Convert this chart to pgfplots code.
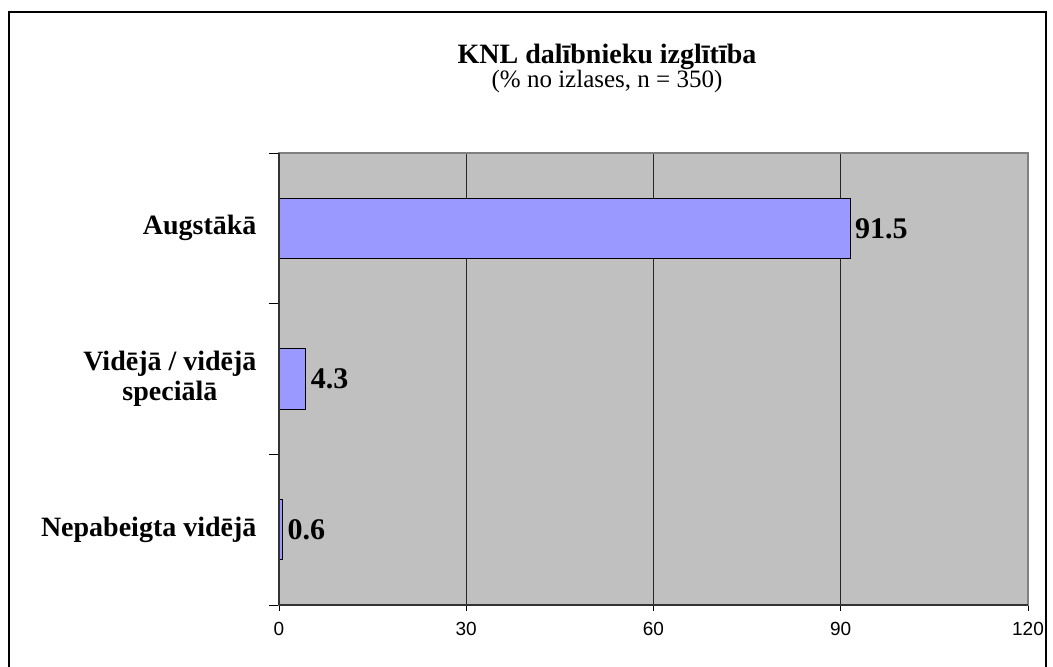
\documentclass[border=0pt]{standalone}
\usepackage{fontspec}
\setmainfont{Liberation Serif}
\newfontfamily\arial{Liberation Sans}
\usepackage{pgfplots}
\pgfplotsset{compat=1.18}
\usepackage{pgfplotstable}
\definecolor{plotgray}{HTML}{C0C0C0}
\definecolor{barblue}{HTML}{9999FF}
\definecolor{bordergray}{HTML}{808080}
\pgfplotstableread{
y val label
0 0.6 0.6
1 4.3 4.3
2 91.5 91.5
}\datatab
\begin{document}
\begin{tikzpicture}
\path[use as bounding box] (-279pt,-62pt) rectangle (774pt,605pt);
\draw[line width=2pt] (-270pt,-80pt) rectangle (767pt,593pt);
\begin{axis}[
  scale only axis,
  width=749pt, height=452pt,
  xmin=0, xmax=120,
  ymin=-0.5, ymax=2.5,
  xtick={0,30,60,90,120},
  ytick={0,1,2},
  yticklabels={{Nepabeigta vidējā},{Vidējā / vidējā\\speciālā},{Augstākā}},
  minor ytick={-0.5,0.5,1.5,2.5},
  xtick pos=bottom,
  ytick pos=left,
  major y tick style={draw=none},
  minor y tick style={black, line width=0.8pt},
  minor tick length=10pt,
  major tick length=6pt,
  tick align=outside,
  x tick style={black, line width=0.8pt},
  xmajorgrids,
  major x grid style={black!85, line width=0.8pt},
  axis background/.style={fill=plotgray},
  axis line style={bordergray, line width=1.5pt},
  yticklabel style={font=\bfseries\fontsize{28}{30}\selectfont, align=center, xshift=-13pt},
  xticklabel style={font=\arial\fontsize{19}{22}\selectfont, yshift=-8pt},
  /pgf/number format/assume math mode=true,
  xbar,
  bar width=0.4,
  point meta=explicit symbolic,
  nodes near coords,
  nodes near coords style={font=\bfseries\fontsize{30}{34}\selectfont, anchor=west, xshift=1pt},
  clip=false,
]
\addplot[draw=black, line width=1.2pt, fill=barblue] table[x=val, y=y, meta=label] {\datatab};
\draw[black!80, line width=1.5pt] (rel axis cs:0,0) -- (rel axis cs:1,0);
\draw[black!80, line width=1.5pt] (rel axis cs:0,0) -- (rel axis cs:0,1);
\end{axis}
\node[anchor=base, font=\bfseries\fontsize{28}{32}\selectfont] at (328pt,541pt) {KNL dalībnieku izglītība};
\node[anchor=base, font=\fontsize{25}{29}\selectfont] at (328pt,517pt) {(\% no izlases, n = 350)};
\end{tikzpicture}
\end{document}
